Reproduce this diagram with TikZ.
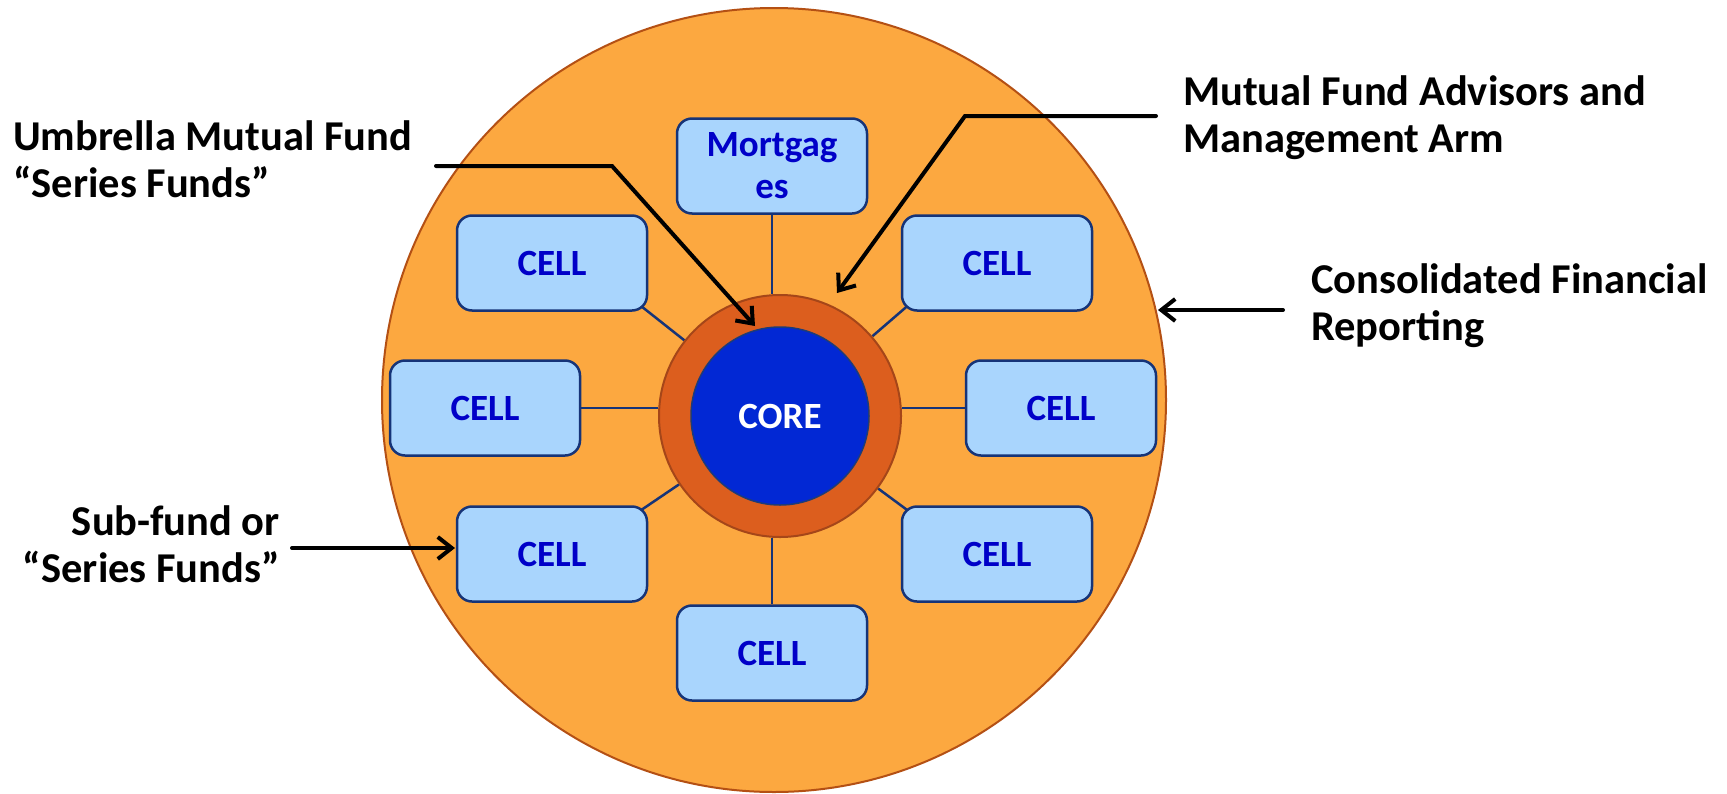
\documentclass[tikz,border=0pt]{standalone}
\usepackage{fontspec}
\setmainfont{Carlito}
\usetikzlibrary{arrows.meta}
\definecolor{orangebg}{RGB}{252,168,64}
\definecolor{orangeedge}{RGB}{180,80,20}
\definecolor{ringfill}{RGB}{220,94,30}
\definecolor{ringedge}{RGB}{165,70,25}
\definecolor{corefill}{RGB}{2,40,212}
\definecolor{coreedge}{RGB}{30,60,120}
\definecolor{boxfill}{RGB}{169,213,253}
\definecolor{navy}{RGB}{22,52,120}
\definecolor{celltext}{RGB}{0,0,200}
\pgfdeclarelayer{bg}
\pgfdeclarelayer{links}
\pgfsetlayers{bg,links,main}
\begin{document}
\begin{tikzpicture}[x=1pt,y=-1pt,
 cellbox/.style={draw=navy, line width=2.5pt, fill=boxfill, rounded corners=15pt,
   minimum width=190pt, minimum height=95pt, inner sep=0pt, text=celltext,
   font=\fontsize{37}{42}\selectfont\bfseries, align=center},
 link/.style={draw=navy, line width=2.5pt},
 note/.style={font=\fontsize{42.5}{46.5}\selectfont\bfseries, inner sep=0pt},
 arr/.style={line width=4pt, line cap=round, -{Straight Barb[length=14pt,width=22pt]}}
]
\useasboundingbox (0,0) rectangle (1727,793);
\begin{pgfonlayer}{bg}
\node[circle, draw=orangeedge, fill=orangebg, line width=2pt, minimum size=784pt, inner sep=0pt] (outer) at (774,400) {};
\end{pgfonlayer}
\node[circle, draw=ringedge, fill=ringfill, line width=2pt, minimum size=242pt, inner sep=0pt] (ring) at (780,416) {};
\node[circle, draw=coreedge, fill=corefill, line width=1.5pt, minimum size=178pt, inner sep=0pt,
  text=white, font=\fontsize{37}{42}\selectfont\bfseries] (core) at (780,416) {CORE};

\node[cellbox] (mort) at (772,166) {Mortgag\\es};
\node[cellbox] (ctl) at (552,263) {CELL};
\node[cellbox] (ctr) at (997,263) {CELL};
\node[cellbox] (cl) at (485,408) {CELL};
\node[cellbox] (cr) at (1061,408) {CELL};
\node[cellbox] (cbl) at (552,554) {CELL};
\node[cellbox] (cbr) at (997,554) {CELL};
\node[cellbox] (cb) at (772,653) {CELL};

\begin{pgfonlayer}{links}
\draw[link] (mort.south) -- (mort.south |- ring.north);
\draw[link] (cb.north) -- (cb.north |- ring.south);
\draw[link] (cl.east) -- (cl.east -| ring.west);
\draw[link] (cr.west) -- (cr.west -| ring.east);
\draw[link, shorten <=-8pt] (ctl.south east) -- (ring);
\draw[link, shorten <=-8pt] (ctr.south west) -- (ring);
\draw[link, shorten <=-8pt] (cbl.north east) -- (ring);
\draw[link, shorten <=-8pt] (cbr.north west) -- (ring);
\end{pgfonlayer}

\node[note, anchor=base west, align=left] (umb) at (13,197) {Umbrella Mutual Fund\\“Series Funds”};
\node[note, anchor=base west, align=left] (adv) at (1183,152) {Mutual Fund Advisors and\\Management Arm};
\node[note, anchor=base west, align=left] (cons) at (1311,340) {Consolidated Financial\\Reporting};
\node[note, anchor=base east, align=right] (sub) at (280,582) {Sub-fund or\\“Series Funds”};

\coordinate (umbA) at (436,166);
\coordinate (umbB) at (612,166);
\coordinate (umbT) at (755,326);
\coordinate (advA) at (1156,116);
\coordinate (advB) at (965,116);
\coordinate (advT) at (837,293);
\coordinate (consA) at (1283,310);
\coordinate (consT) at (1158,310);
\coordinate (subA) at (292,548);
\coordinate (subT) at (455,548);
\draw[arr] (umbA) -- (umbB) -- (umbT);
\draw[arr] (advA) -- (advB) -- (advT);
\draw[arr] (consA) -- (consT);
\draw[arr] (subA) -- (subT);
\end{tikzpicture}
\end{document}
